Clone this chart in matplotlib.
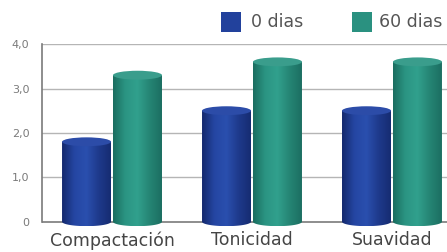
import numpy as np
import matplotlib.pyplot as plt
from matplotlib.patches import Polygon, Ellipse, Rectangle
from matplotlib.colors import LinearSegmentedColormap

# data
categories = ['Compactación', 'Tonicidad', 'Suavidad']
dias_0 = [1.8, 2.5, 2.5]
dias_60 = [3.3, 3.6, 3.6]
series_labels = ['0 dias', '60 dias']

blue_cmap = LinearSegmentedColormap.from_list('b', ['#14296e', '#2546a2', '#2a4fae', '#1e3a8c', '#162c72'])
green_cmap = LinearSegmentedColormap.from_list('g', ['#1b6e60', '#2b9583', '#31a08d', '#258574', '#1c6f62'])
blue_top = '#2c4ca8'
green_top = '#3a9d8c'
legend_colors = ['#22419c', '#2a9180']

fig = plt.figure(figsize=(4.47, 2.52), dpi=100)
ax = fig.add_axes([0.094, 0.099, 0.906, 0.726])

ymin = -0.12
ax.set_xlim(-0.5, 2.393)
ax.set_ylim(ymin, 4.0)

width = 0.35
off = 0.182
eh = 0.2  # ellipse height in data units


def cylinder(xc, v, cmap, top_color):
    x0, x1 = xc - width / 2, xc + width / 2
    t = np.linspace(np.pi, 2 * np.pi, 40)
    xs = xc + width / 2 * np.cos(t)
    ys = eh / 2 * np.sin(t)
    verts = np.column_stack([xs, ys])
    verts = np.vstack([verts, [[x1, v], [x0, v]]])
    body = Polygon(verts, closed=True, facecolor='none', edgecolor='none')
    ax.add_patch(body)
    grad = np.linspace(0, 1, 100).reshape(1, -1)
    im = ax.imshow(grad, cmap=cmap, extent=[x0, x1, -eh / 2, v], aspect='auto',
                   origin='lower', zorder=3, interpolation='bilinear')
    im.set_clip_path(body)
    top = Ellipse((xc, v), width, eh, facecolor=top_color, edgecolor='none', zorder=4)
    ax.add_patch(top)


x = np.arange(len(categories))
for i in range(len(categories)):
    cylinder(x[i] - off, dias_0[i], blue_cmap, blue_top)
    cylinder(x[i] + off, dias_60[i], green_cmap, green_top)

# grid and axes
for yv in [1, 2, 3, 4]:
    ax.axhline(yv, color='#b5b5b5', lw=1.0, zorder=1)
ax.axhline(0, color='#7a7a7a', lw=1.2, zorder=2)
for s in ['top', 'right', 'bottom']:
    ax.spines[s].set_visible(False)
ax.spines['left'].set_bounds(0, 4)
ax.spines['left'].set_color('#7a7a7a')
ax.spines['left'].set_linewidth(1.2)

ax.set_yticks([0, 1, 2, 3, 4])
ax.set_yticklabels(['0', '1,0', '2,0', '3,0', '4,0'], color='#7a7a7a', fontsize=8)
ax.tick_params(axis='y', length=0, pad=9)
ax.set_xticks(x)
ax.set_xticklabels(categories, fontsize=12.5, color='#454545')
ax.tick_params(axis='x', length=0, pad=3)

# legend drawn by hand, squares + labels at the top right
sq_x = [0.494, 0.787]
txt_x = [0.562, 0.848]
for sx, tx, c, lab in zip(sq_x, txt_x, legend_colors, series_labels):
    fig.add_artist(Rectangle((sx, 0.873), 0.0447, 0.079, transform=fig.transFigure,
                             facecolor=c, edgecolor='none'))
    fig.text(tx, 0.912, lab, fontsize=12.5, color='#555555', va='center', ha='left')

fig.savefig('out.png', dpi=100)
